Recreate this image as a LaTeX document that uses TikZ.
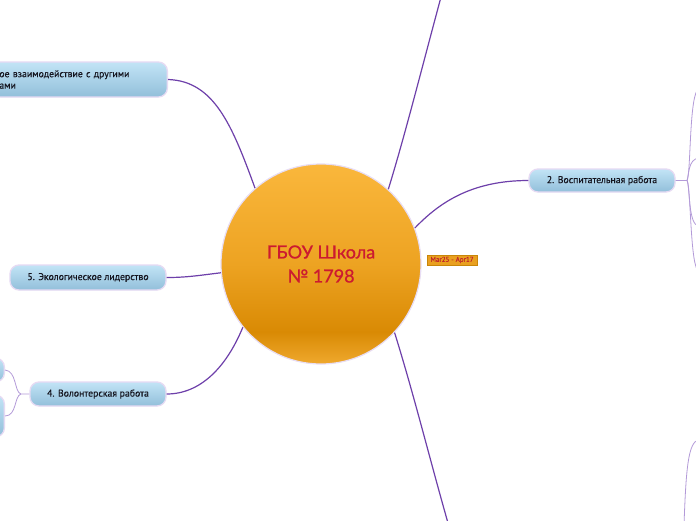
\documentclass[tikz,border=0pt]{standalone}
\usepackage{fontspec}
\setmainfont{PT Sans}
\newfontfamily\centerfont[FakeBold=0.8]{Lato}
\newfontfamily\boxfont[FakeBold=0.4]{PT Sans}
\definecolor{mainline}{HTML}{6E40AA}
\definecolor{subline}{HTML}{B39AD8}
\definecolor{boxtop}{HTML}{C2E4F6}
\definecolor{boxbot}{HTML}{92BFDA}
\definecolor{boxborder}{HTML}{E6DAF3}
\definecolor{boxtext}{HTML}{14141E}
\definecolor{orbtop}{HTML}{FAB73C}
\definecolor{orbmid}{HTML}{EDA322}
\definecolor{orbdark}{HTML}{D98A04}
\definecolor{orbbot}{HTML}{EFA92E}
\definecolor{orbedge}{HTML}{E8DDF4}
\definecolor{titlered}{HTML}{CC1A30}
\definecolor{datefill}{HTML}{E9A020}
\definecolor{dateborder}{HTML}{C98608}
\definecolor{datetext}{HTML}{C0262A}
\pgfdeclareverticalshading{orbshade}{100bp}{color(0bp)=(orbbot); color(25bp)=(orbbot); color(33bp)=(orbdark); color(50bp)=(orbmid); color(75bp)=(orbtop); color(100bp)=(orbtop)}
\tikzset{
  mainconn/.style={draw=mainline, line width=1.2pt},
  subconn/.style={draw=subline, line width=0.8pt},
  topic/.style={rectangle, rounded corners=9pt, draw=boxborder, line width=1.3pt,
    top color=boxtop, bottom color=boxbot, text=boxtext, font=\boxfont\fontsize{9.8}{11.5}\selectfont,
    inner sep=0pt},
  centre/.style={circle, draw=orbedge, line width=1.2pt, shading=orbshade, minimum size=200pt,
    inner sep=0pt, text=titlered, align=center, font=\centerfont\fontsize{18}{24}\selectfont},
  datebox/.style={rectangle, fill=datefill, draw=dateborder, line width=0.5pt, text=datetext,
    font=\boxfont\fontsize{7}{8}\selectfont, inner sep=0pt, minimum width=50pt, minimum height=10pt}
}
\begin{document}
\begin{tikzpicture}[x=1pt, y=-1pt]
\useasboundingbox (0,0) rectangle (696,520);
\clip (0,0) rectangle (696,520);
\fill[white] (0,0) rectangle (696,520);

% nodes
\node[centre] (c) at (321,264) {ГБОУ Школа\\№ 1798};
\node[datebox] (d) at (452,260) {Mar25 - Apr17};

\node[topic, anchor=east, text width=160pt, inner xsep=8pt, align=left, minimum height=35pt] (n1) at (168,79.5)
  {ое взаимодействие с другими\\ами};
\node[topic, minimum width=156pt, minimum height=25pt] (n5) at (88,277.5) {5. Экологическое лидерство};
\node[topic, minimum width=136pt, minimum height=24pt] (n4) at (98,394) {4. Волонтерская работа};
\node[topic, minimum width=146pt, minimum height=23pt] (n2) at (602,180.5) {2. Воспитательная работа};

\node[topic, anchor=east, minimum width=60pt, minimum height=24pt] (c1) at (5,370) {};
\node[topic, anchor=east, minimum width=60pt, minimum height=42pt] (c2) at (5,416) {};

\coordinate (t) at (441,-3);
\coordinate (b) at (448,523);
\coordinate (j4) at (21,394);
\coordinate (j2) at (687,180.5);
\coordinate (r1) at (699,89);
\coordinate (r2) at (699,158);
\coordinate (r3) at (699,226);
\coordinate (r4) at (699,271);
\coordinate (bs) at (684,525);
\coordinate (br) at (699,440);

% main connectors
\draw[mainconn] (c.131.6) .. controls (232,125) and (214,81) .. (n1.east);
\draw[mainconn] (c.48.4) .. controls (405,135) and (420,75) .. (t);
\draw[mainconn] (c.21) .. controls (438,204) and (470,180.5) .. (n2.west);
\draw[mainconn] (c.185.5) .. controls (195,276) and (185,277.5) .. (n5.east);
\draw[mainconn] (c.219) .. controls (226,368) and (200,394) .. (n4.east);
\draw[mainconn] (c.317) .. controls (414,395) and (430,460) .. (b);

% sub connectors
\draw[subconn] (n4.west) -- (j4) .. controls (14,392) and (17,371) .. (c1.east);
\draw[subconn] (j4) .. controls (14,396) and (17,416) .. (c2.east);
\draw[subconn] (n2.east) -- (j2) .. controls (691,175) and (689,91) .. (r1);
\draw[subconn] (j2) .. controls (689,175) and (688,159) .. (r2);
\draw[subconn] (j2) .. controls (690,186) and (688,226) .. (r3);
\draw[subconn] (j2) .. controls (691,186) and (690,270) .. (r4);
\draw[subconn] (bs) .. controls (686,470) and (688,441) .. (br);
\end{tikzpicture}
\end{document}
